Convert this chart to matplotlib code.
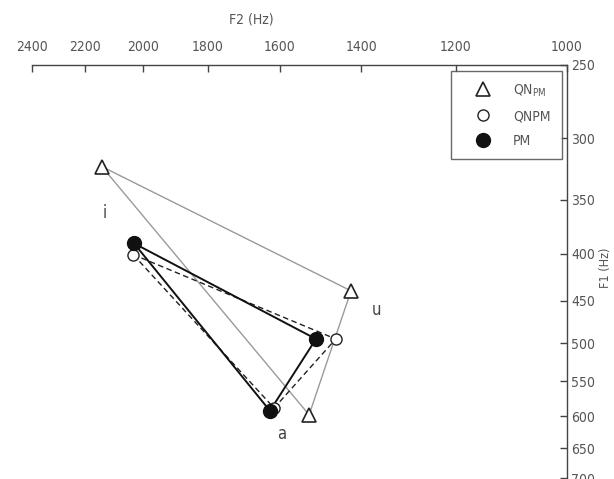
import matplotlib
matplotlib.use("Agg")
import matplotlib.pyplot as plt
from matplotlib.ticker import FixedLocator, FixedFormatter, NullLocator
from matplotlib.lines import Line2D

# ---- data (F2, F1 in Hz) for vowels i, u, a ----
vowels = ["i", "u", "a"]
qn_pm_f2 = [2141, 1424, 1525]
qn_pm_f1 = [322, 439, 598]
qnpm_f2 = [2034, 1460, 1615]
qnpm_f1 = [401, 495, 588]
pm_f2 = [2031, 1508, 1626]
pm_f1 = [390, 495, 592]

label_f2 = [2130, 1365, 1595]
label_f1 = [362, 460, 628]

f2_ticks = [2400, 2200, 2000, 1800, 1600, 1400, 1200, 1000]
f1_ticks = [250, 300, 350, 400, 450, 500, 550, 600, 650, 700]

FONT = dict(family="DejaVu Sans", stretch="condensed")

W, H = 614, 479
fig = plt.figure(figsize=(W / 100, H / 100), dpi=100)
left, right, top, bottom = 32, 567, 65, 478
ax = fig.add_axes([left / W, 1 - bottom / H, (right - left) / W, (bottom - top) / H])

ax.set_xscale("log")
ax.set_yscale("log")
ax.set_xlim(2400, 1000)
ax.set_ylim(700, 250)

def closed(a):
    return list(a) + [a[0]]

ax.plot(closed(qn_pm_f2), closed(qn_pm_f1), color="#9a9a9a", lw=1.0, zorder=1)
ax.plot(closed(qnpm_f2), closed(qnpm_f1), color="#222222", lw=1.0, ls=(0, (4, 2.5)), zorder=2)
ax.plot(closed(pm_f2), closed(pm_f1), color="#111111", lw=1.4, zorder=3)

ax.plot(qnpm_f2, qnpm_f1, ls="none", marker="o", ms=8, mfc="white", mec="#222222", mew=1.0, zorder=4)
ax.plot(pm_f2, pm_f1, ls="none", marker="o", ms=10, mfc="#111111", mec="#111111", zorder=5)
ax.plot(qn_pm_f2, qn_pm_f1, ls="none", marker="^", ms=10, mfc="white", mec="#222222", mew=1.2, zorder=6)

for v, x, y in zip(vowels, label_f2, label_f1):
    ax.text(x, y, v, fontsize=12, color="#444444", ha="center", va="center", **FONT)

# axes styling: only top and right spines
for s in ["left", "bottom"]:
    ax.spines[s].set_visible(False)
for s in ["top", "right"]:
    ax.spines[s].set_color("#444444")
    ax.spines[s].set_linewidth(1.0)

ax.xaxis.set_ticks_position("top")
ax.xaxis.set_label_position("top")
ax.yaxis.set_ticks_position("right")
ax.yaxis.set_label_position("right")
ax.xaxis.set_major_locator(FixedLocator(f2_ticks))
ax.xaxis.set_major_formatter(FixedFormatter([str(t) for t in f2_ticks]))
ax.xaxis.set_minor_locator(NullLocator())
ax.yaxis.set_major_locator(FixedLocator(f1_ticks))
ax.yaxis.set_major_formatter(FixedFormatter([str(t) for t in f1_ticks]))
ax.yaxis.set_minor_locator(NullLocator())

ax.tick_params(axis="x", direction="in", length=5, width=1, color="#444444",
               labelcolor="#555555", pad=8, labelsize=10)
ax.tick_params(axis="y", direction="in", length=5, width=1, color="#444444",
               labelcolor="#555555", pad=3, labelsize=10)
for lab in ax.get_xticklabels() + ax.get_yticklabels():
    lab.set_fontfamily(FONT["family"])
    lab.set_fontstretch(FONT["stretch"])

ax.set_xlabel("F2 (Hz)", fontsize=10, color="#555555", **FONT)
ax.xaxis.set_label_coords(0.41, 1.10)
ax.set_ylabel("F1 (Hz)", fontsize=9, color="#555555", rotation=90, va="center", **FONT)
ax.yaxis.set_label_coords(1.072, 0.508)

handles = [
    Line2D([], [], ls="none", marker="^", ms=10, mfc="white", mec="#222222", mew=1.2),
    Line2D([], [], ls="none", marker="o", ms=8, mfc="white", mec="#222222", mew=1.0),
    Line2D([], [], ls="none", marker="o", ms=10, mfc="#111111", mec="#111111"),
]
labels = ["QN$_{\\mathregular{PM}}$", "QNPM", "PM"]
leg = ax.legend(handles, labels, loc="upper right", bbox_to_anchor=(0.99, 0.985),
                frameon=True, fancybox=False, edgecolor="#444444",
                prop={"family": "DejaVu Sans", "stretch": "condensed", "size": 10},
                labelcolor="#555555", handletextpad=0.6, borderpad=0.8,
                labelspacing=0.75, borderaxespad=0.0, handlelength=3.1)
leg.get_frame().set_linewidth(1.0)

fig.savefig("out.png", dpi=100)
